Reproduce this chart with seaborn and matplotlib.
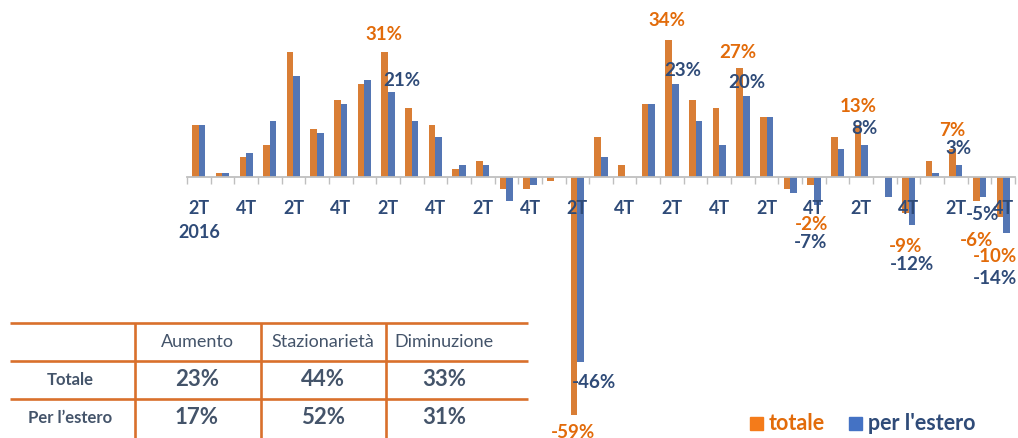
# %%
import numpy as np
import pandas as pd
import matplotlib
matplotlib.use('Agg')
import matplotlib.pyplot as plt
from matplotlib.patches import Rectangle
import seaborn as sns

# %%
# trimestri dal 2T 2016 al 4T 2024
trimestri = [f'{q}T{a}' for a in range(2016, 2025) for q in range(1, 5)][1:]
etichette = ['2T\n2016'] + [t[:2] if t[0] in '24' else '' for t in trimestri[1:]]

totale = [13, 1, 5, 8, 31, 12, 19, 23, 31, 17, 13, 2, 4, -3, -3, -1, -59, 10,
          3, 18, 34, 19, 17, 27, 15, -3, -2, 10, 13, 0, -9, 4, 7, -6, -10]
estero = [13, 1, 6, 14, 25, 11, 18, 24, 21, 14, 10, 3, 3, -6, -2, 0, -46, 5,
          0, 18, 23, 14, 8, 20, 15, -4, -7, 7, 8, -5, -12, 1, 3, -5, -14]

serie = ['totale', "per l'estero"]

tab_colonne = ['Aumento', 'Stazionarietà', 'Diminuzione']
tab_righe = ['Totale', 'Per l’estero']
tab_totale = [23, 44, 33]
tab_estero = [17, 52, 31]

# %%
# stile
ARANCIO = '#F47B1A'
BLU = '#4472C4'
TXT_ARANCIO = '#E26B0A'
TXT_BLU = '#2F4B78'
TXT_TAB = '#44546A'
LINEA_TAB = '#D9702C'

plt.rcParams['font.family'] = ['Lato', 'DejaVu Sans']

# posizione delle etichette (offset in pixel dal centro categoria sulla linea dello zero)
pos_etichette = {8: [(-4, 143), (14, 97)], 16: [(-4, -255), (17, -206)],
                 20: [(-5, 157), (11, 106)], 23: [(-5, 124), (4, 95)],
                 26: [(-2, -48), (-3, -66)], 28: [(-3.5, 70), (3.5, 49)],
                 30: [(-3, -69), (3, -88)], 32: [(-4, 46), (3, 29)],
                 33: [(-3, -63), (3, -38)], 34: [(-8, -80), (-8, -101)]}

# %%
df = pd.DataFrame({'trimestre': trimestri * 2,
                   'valore': totale + estero,
                   'serie': [serie[0]] * len(totale) + [serie[1]] * len(estero)})

W, H = 1018, 438
fig = plt.figure(figsize=(W / 100, H / 100), dpi=100, facecolor='w')

# tabella e legenda in basso (coordinate in pixel)
tab = fig.add_axes([0, 0, 1, 1])
tab.set_xlim(0, W)
tab.set_ylim(H, 0)
tab.axis('off')

# assi del grafico: zero a y=177px, 4.03 px per punto percentuale
zero_px, scala = 177, 4.03
ax = fig.add_axes([187 / W, 0, 828 / W, 1])
ax.patch.set_alpha(0)
sns.barplot(data=df, x='trimestre', y='valore', hue='serie', order=trimestri,
            hue_order=serie, palette=[ARANCIO, BLU], width=0.56, gap=0,
            linewidth=0, legend=False, ax=ax)
ax.set_xlim(-0.5, len(trimestri) - 0.5)
ax.set_ylim(-(H - zero_px) / scala, zero_px / scala)

for s in ['left', 'right', 'top']:
    ax.spines[s].set_visible(False)
ax.spines['bottom'].set_position(('data', 0))
ax.spines['bottom'].set_color('#BFBFBF')
ax.spines['bottom'].set_linewidth(1.3)
ax.set_yticks([])
ax.set_xlabel('')
ax.set_ylabel('')

ax.set_xticks(range(len(trimestri)), etichette)
ax.set_xticks(np.arange(-0.5, len(trimestri)), minor=True)
ax.tick_params(axis='x', which='major', length=0, pad=16.5, labelsize=13,
               labelcolor=TXT_BLU)
ax.tick_params(axis='x', which='minor', length=5, width=1, color='#BFBFBF',
               direction='out')
for t in ax.get_xticklabels():
    t.set_fontweight('bold')
ax.get_xticklabels()[0].set_linespacing(1.5)

# etichette dei valori
for i, offs in pos_etichette.items():
    for (dx, dy), vals, col in zip(offs, [totale, estero], [TXT_ARANCIO, TXT_BLU]):
        ax.annotate(f'{vals[i]}%', xy=(i, 0), xytext=(dx, dy),
                    textcoords='offset pixels', ha='center', va='center',
                    fontsize=13.5, fontweight='bold', color=col)

# %%
tab.hlines([322.7, 361, 399.3], 10, 528, color=LINEA_TAB, lw=1.9)
tab.vlines([135, 260.7, 385.7], 322.7, H, color=LINEA_TAB, lw=1.9)

col_x = [197, 323, 444]
riga_y = [380, 418]
for x, c in zip(col_x, tab_colonne):
    tab.text(x, 342, c, ha='center', va='center', fontsize=13, color=TXT_TAB)
for y, r, vals in zip(riga_y, tab_righe, [tab_totale, tab_estero]):
    tab.text(70, y, r, ha='center', va='center', fontsize=12,
             fontweight='bold', color=TXT_TAB)
    for x, v in zip(col_x, vals):
        tab.text(x, y, f'{v}%', ha='center', va='center', fontsize=16,
                 fontweight='bold', color=TXT_TAB)

# legenda
for x0, nome, col, col_txt in zip([750, 849], serie, [ARANCIO, BLU],
                                  [TXT_ARANCIO, TXT_BLU]):
    tab.add_patch(Rectangle((x0, 417), 13, 13, color=col))
    tab.text(x0 + 19, 423, nome, ha='left', va='center', fontsize=15.5,
             fontweight='bold', color=col_txt)

fig.savefig('out.png', dpi=100)
